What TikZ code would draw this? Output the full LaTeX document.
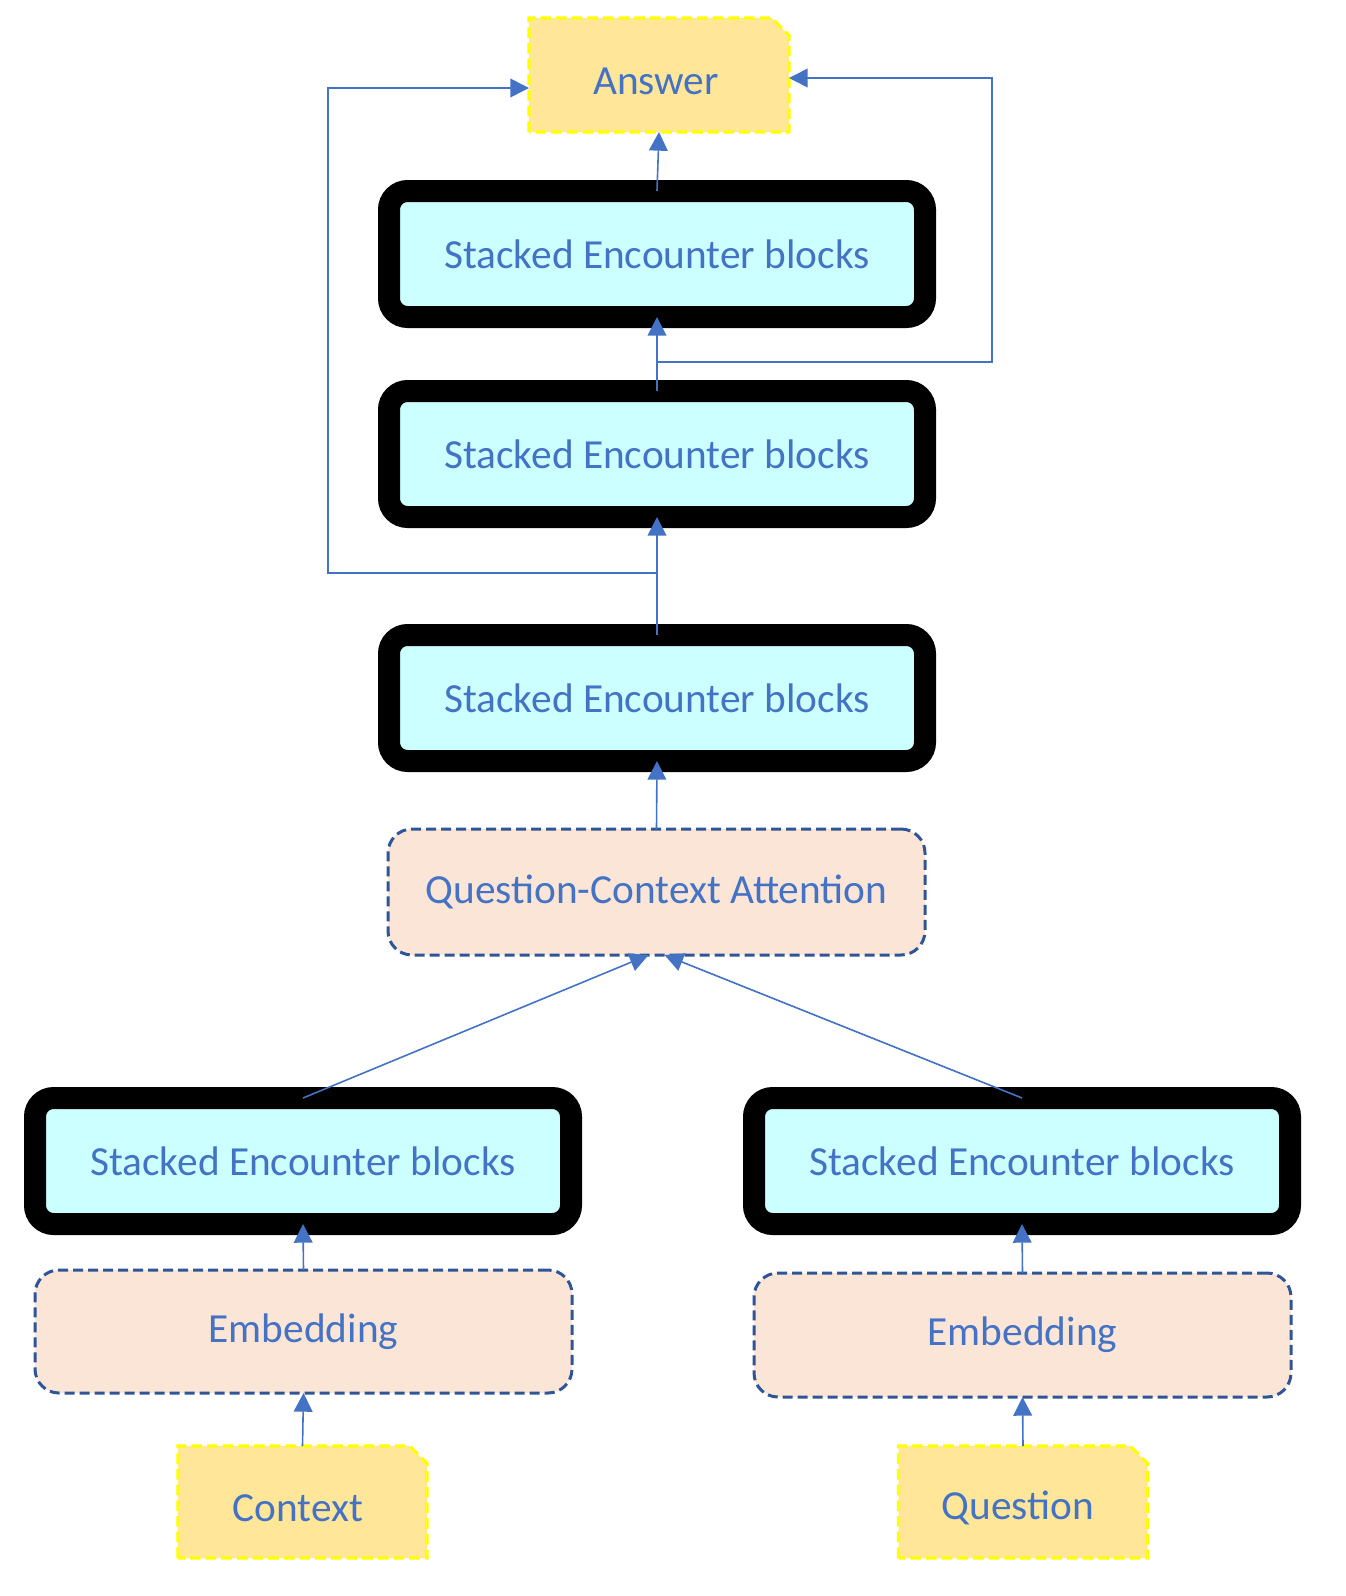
\documentclass[tikz,border=0pt]{standalone}
\usepackage{fontspec}
\setmainfont{Carlito}
\usetikzlibrary{arrows.meta,calc}
\definecolor{txtblue}{HTML}{4472C4}
\definecolor{dashblue}{HTML}{2F5597}
\definecolor{peach}{HTML}{FBE5D6}
\definecolor{lcyan}{HTML}{CCFFFF}
\definecolor{gold}{HTML}{FFE699}
\definecolor{yel}{HTML}{FFFF00}
\tikzset{
  stackbox/.style={draw=black, line width=16.5pt, fill=lcyan, rounded corners=14pt,
    minimum width=402pt, minimum height=94.5pt, inner sep=0pt, outer sep=0pt,
    text=txtblue, font=\fontsize{31}{37}\selectfont},
  dashbox/.style={draw=dashblue, line width=2.25pt, dash pattern=on 7.5pt off 3.75pt,
    fill=peach, rounded corners=18pt, minimum width=402.75pt, minimum height=93pt,
    inner sep=0pt, outer sep=0pt, text=txtblue, font=\fontsize{31}{37}\selectfont},
  notebox/.style={draw=none, inner sep=0pt, outer sep=0pt, text=txtblue,
    font=\fontsize{31}{37}\selectfont},
  noteframe/.style={draw=yel, fill=gold, line width=2.4pt, dash pattern=on 8pt off 3.75pt},
  conn/.style={draw=txtblue, line width=1.2pt, -{Triangle[length=14pt,width=14pt]}},
}
\newcommand{\notepath}[1]{%
  \path[noteframe] (#1.south west) -- (#1.north west) -- ([xshift=-13pt]#1.north east)
    -- ([yshift=-13pt]#1.north east) -- (#1.south east) -- cycle;}
\begin{document}
\begin{tikzpicture}[x=0.75pt,y=-0.75pt]
\useasboundingbox (0,0) rectangle (1346,1596);
% notes (frames drawn first)
\node[notebox, minimum width=195pt, minimum height=85.5pt] (ans) at (659,75) {};
\notepath{ans}
\node[notebox] at (656,81) {Answer};
\node[notebox, minimum width=186.75pt, minimum height=84pt] (ctx) at (302.5,1502) {};
\notepath{ctx}
\node[notebox] at (298,1508) {Context};
\node[notebox, minimum width=186.75pt, minimum height=84pt] (qst) at (1023,1502) {};
\notepath{qst}
\node[notebox] at (1018,1508) {Question};
% stacked blocks
\node[stackbox] (s1) at (657,254) {Stacked Encounter blocks};
\node[stackbox] (s2) at (657,454) {Stacked Encounter blocks};
\node[stackbox] (s3) at (657,698) {Stacked Encounter blocks};
\node[stackbox] (sl) at (303,1161) {Stacked Encounter blocks};
\node[stackbox] (sr) at (1022,1161) {Stacked Encounter blocks};
% dashed boxes
\node[dashbox, minimum height=94.5pt] (qca) at (656.5,892) {Question-Context Attention};
\node[dashbox, minimum height=92.25pt] (el) at (303.5,1331.5) {Embedding};
\node[dashbox, minimum height=93pt] (er) at (1022.5,1335) {Embedding};
% connectors
\coordinate (b1) at (657,362);
\coordinate (b2) at (657,573);
\draw[conn] (s1.north) -- (ans.south);
\draw[conn] (s2.north) -- (s1.south);
\draw[conn] (s3.north) -- (s2.south);
\draw[conn] (qca.north) -- (s3.south);
\draw[conn] (b1) -- (992,362) |- (ans.east |- 0,78);
\draw[conn] (b2) -- (328,573) |- (ans.west |- 0,88);
\draw[conn] (sl.north) -- ([xshift=-6pt]qca.south);
\draw[conn] (sr.north) -- ([xshift=6pt]qca.south);
\draw[conn] (el.north) -- (sl.south);
\draw[conn] (er.north) -- (sr.south);
\draw[conn] (ctx.north) -- (el.south);
\draw[conn] (qst.north) -- (er.south);
\end{tikzpicture}
\end{document}
